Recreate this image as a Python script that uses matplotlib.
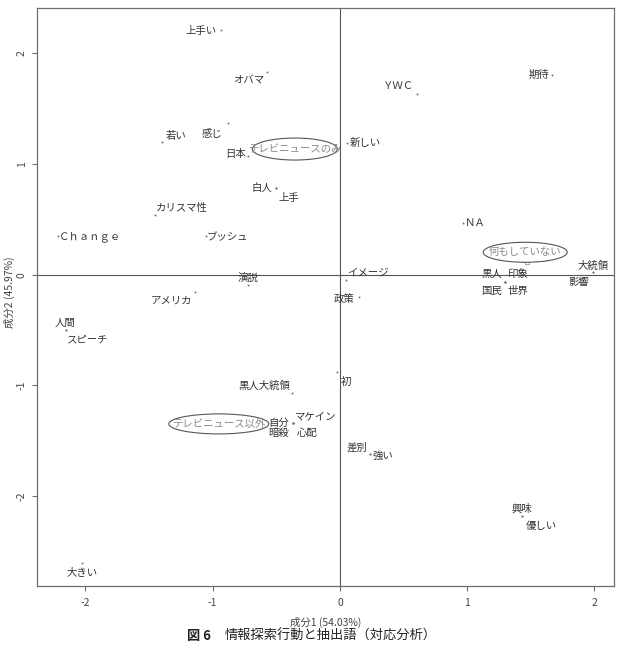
import matplotlib
matplotlib.use("Agg")
import matplotlib.pyplot as plt
import matplotlib.transforms as mtransforms
from matplotlib.patches import Ellipse

plt.rcParams["font.family"] = ["Noto Sans CJK JP", "DejaVu Sans"]

# -------------------------
# データ（対応分析の座標）
# -------------------------
words = [
    "上手い", "オバマ", "感じ", "若い", "日本", "新しい", "ＹＷＣ", "期待",
    "白人", "上手", "カリスマ性", "Ｃｈａｎｇｅ", "ブッシュ", "演説", "アメリカ",
    "人間", "スピーチ", "ＮＡ", "イメージ", "黒人", "印象", "国民", "世界",
    "大統領", "影響", "政策", "初", "黒人大統領", "マケイン", "自分", "暗殺",
    "心配", "差別", "強い", "興味", "優しい", "大きい",
]
dim1 = [
    -0.938, -0.576, -0.883, -1.397, -0.723, 0.053, 0.603, 1.669,
    -0.503, -0.503, -1.454, -2.215, -1.053, -0.721, -1.140,
    -2.156, -2.156, 0.965, 0.045, 1.297, 1.297, 1.297, 1.297,
    1.987, 1.987, 0.149, -0.021, -0.375, -0.369, -0.369, -0.369,
    -0.369, 0.236, 0.236, 1.433, 1.433, -2.023,
]
dim2 = [
    2.208, 1.832, 1.366, 1.200, 1.071, 1.186, 1.628, 1.802,
    0.780, 0.780, 0.539, 0.349, 0.349, -0.096, -0.159,
    -0.499, -0.499, 0.469, -0.048, -0.063, -0.063, -0.063, -0.063,
    0.027, 0.027, -0.204, -0.875, -1.070, -1.338, -1.338, -1.338,
    -1.338, -1.621, -1.621, -2.178, -2.178, -2.605,
]

# 情報探索行動（外部変数）
groups = ["テレビニュースのみ", "何もしていない", "テレビニュース以外"]
group_dim1 = [-0.354, 1.472, -0.983]
group_dim2 = [1.134, 0.112, -1.338]

x_ticks = [-2, -1, 0, 1, 2]
y_ticks = [-2, -1, 0, 1, 2]
x_label = "成分1 (54.03%)"
y_label = "成分2 (45.97%)"
caption_head = "図 6"
caption_body = "情報探索行動と抽出語（対応分析）"

# -------------------------
# レイアウト（ラベルのずらし量, px）
# -------------------------
LABEL_OFFSETS = [
    (-19, -1), (-18, -9), (-15, -11), (14, 6), (-12, 2), (19, 0), (-18, 8), (-13, 0),
    (-14, 0), (13, -10), (27, 7), (32, -1), (22, -1), (0, 7), (-23, -8),
    (0, 7), (22, -9), (13, 0), (22, 7), (-13, 8), (13, 8), (-13, -9), (13, -9),
    (0, 6), (-14, -10), (-15, -2), (9, -10), (-28, 7), (23, 7), (-14, 0), (-14, -10),
    (14, -10), (-13, 7), (13, -2), (0, 7), (19, -10), (0, -10),
]
GROUP_OFFSETS = [(0, 0), (-2, 10), (4, -1)]
ELLIPSE_SIZE = [(85, 22), (84, 20), (100, 20)]

TEXT_COLOR = "#333333"
GROUP_TEXT = "#8a8a8a"
AXIS_COLOR = "#6e6e6e"
FS = 7.5
DPI = 100
W, H = 619, 645

fig = plt.figure(figsize=(W / DPI, H / DPI), dpi=DPI)
ax = fig.add_axes([37 / W, 1 - 586 / H, (614 - 37) / W, (586 - 8) / H])

ax.set_xlim(-2.38, 2.154)
ax.set_ylim(-2.81, 2.407)

ax.axhline(0, color="#555555", linewidth=0.8, zorder=1)
ax.axvline(0, color="#555555", linewidth=0.8, zorder=1)

ax.scatter(dim1, dim2, s=2, color="#777777", linewidths=0, zorder=2)
ax.scatter(group_dim1, group_dim2, s=9, marker="s", facecolors="none",
           edgecolors="#999999", linewidths=0.6, zorder=2)

for w, x, y, (dx, dy) in zip(words, dim1, dim2, LABEL_OFFSETS):
    ax.annotate(w, (x, y), xytext=(dx, dy), textcoords="offset pixels",
                ha="center", va="center", fontsize=FS, color=TEXT_COLOR, zorder=4)

for g, x, y, (dx, dy), (ew, eh) in zip(groups, group_dim1, group_dim2,
                                       GROUP_OFFSETS, ELLIPSE_SIZE):
    ax.annotate(g, (x, y), xytext=(dx, dy), textcoords="offset pixels",
                ha="center", va="center", fontsize=FS, color=GROUP_TEXT, zorder=4)
    trans = fig.dpi_scale_trans + mtransforms.ScaledTranslation(x, y, ax.transData)
    ell = Ellipse((dx / DPI, dy / DPI), ew / DPI, eh / DPI, transform=trans,
                  facecolor="white", edgecolor="#555555", linewidth=0.8, zorder=3)
    ax.add_patch(ell)

# 軸
ax.set_xticks(x_ticks)
ax.set_yticks(y_ticks)
ax.set_xticklabels([str(t) for t in x_ticks])
ax.set_yticklabels([str(t) for t in y_ticks], rotation=90, va="center")
ax.tick_params(axis="both", length=3.5, width=0.8, color=AXIS_COLOR,
               labelsize=FS, labelcolor="#444444")
ax.tick_params(axis="x", pad=5)
ax.tick_params(axis="y", pad=4)
for spine in ax.spines.values():
    spine.set_color(AXIS_COLOR)
    spine.set_linewidth(0.9)

fig.text(325.5 / W, 1 - 622 / H, x_label, ha="center", va="center",
         fontsize=FS, color="#444444")
fig.text(9 / W, 1 - 292 / H, y_label, ha="center", va="center", rotation=90,
         fontsize=FS, color="#444444")
fig.text(187 / W, 1 - 636 / H, caption_head, ha="left", va="center",
         fontsize=9.5, color="#222222", fontweight="bold")
fig.text(225 / W, 1 - 636 / H, caption_body, ha="left", va="center",
         fontsize=9.5, color="#222222")

fig.savefig("out.png", dpi=DPI)
plt.close(fig)
